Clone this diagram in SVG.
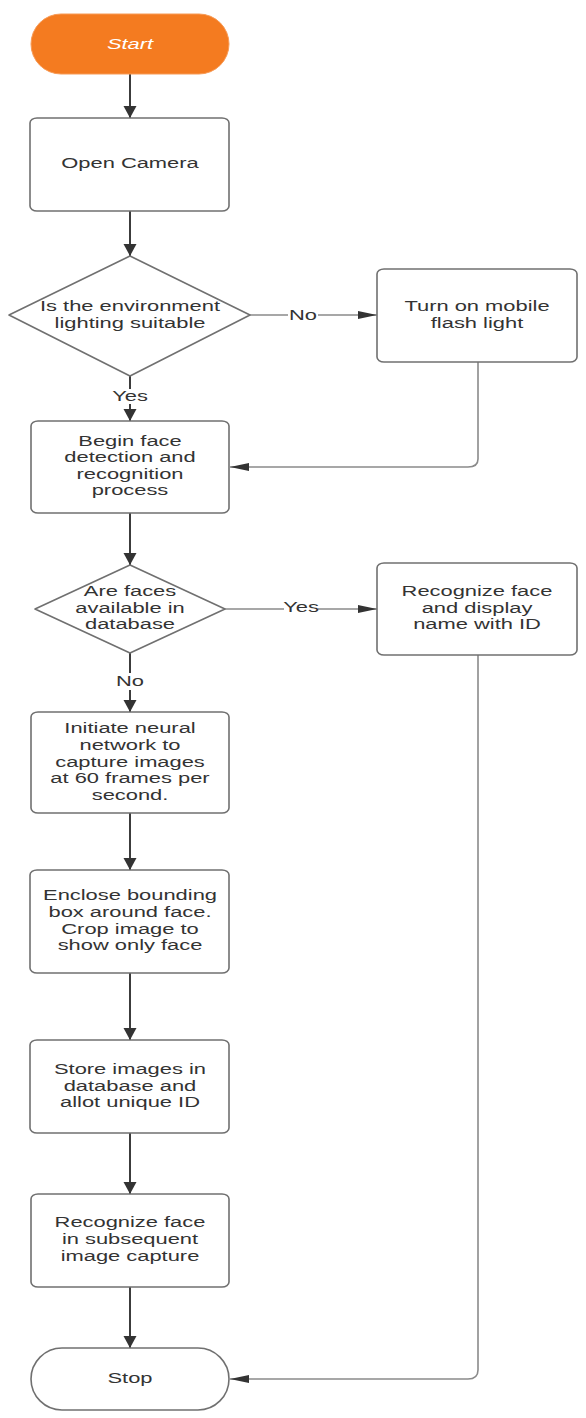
<svg xmlns="http://www.w3.org/2000/svg" width="586" height="1418" viewBox="0 0 586 1418">
<style>
.box{fill:#fff;stroke:#707070;stroke-width:1.6}
.t{font-family:"Liberation Sans",Arial,sans-serif;font-size:15px;fill:#333;text-anchor:middle}
.main{fill:none;stroke:#3c3c3c;stroke-width:2}
.side{fill:none;stroke:#8a8a8a;stroke-width:1.6}
</style>
<defs>
<marker id="aV" markerUnits="userSpaceOnUse" markerWidth="14" markerHeight="14" refX="12" refY="7" orient="auto" viewBox="0 0 14 14"><path d="M0,0.5 L12,7 L0,13.5 Z" fill="#333"/></marker>
<marker id="aH" markerUnits="userSpaceOnUse" markerWidth="20" markerHeight="10" refX="19" refY="5" orient="auto" viewBox="0 0 20 10"><path d="M0,1 L19,5 L0,9 Z" fill="#333"/></marker>
</defs>
<rect width="586" height="1418" fill="#fff"/>
<g id="connectors">
<line class="main" x1="130" y1="74" x2="130" y2="118" marker-end="url(#aV)"/>
<line class="main" x1="130" y1="211" x2="130" y2="256" marker-end="url(#aV)"/>
<line class="main" x1="130" y1="376" x2="130" y2="389"/>
<line class="main" x1="130" y1="404" x2="130" y2="421" marker-end="url(#aV)"/>
<line class="side" x1="250" y1="315" x2="288" y2="315"/>
<line class="side" x1="318" y1="315" x2="377" y2="315" marker-end="url(#aH)"/>
<path class="side" d="M478,362 V459 Q478,467 468,467 H230" marker-end="url(#aH)"/>
<line class="main" x1="130" y1="513" x2="130" y2="565" marker-end="url(#aV)"/>
<line class="side" x1="225" y1="609" x2="284" y2="609"/>
<line class="side" x1="318" y1="609" x2="377" y2="609" marker-end="url(#aH)"/>
<path class="side" d="M478,655 V1370 Q478,1379 468,1379 H230" marker-end="url(#aH)"/>
<line class="main" x1="130" y1="653" x2="130" y2="673"/>
<line class="main" x1="130" y1="690" x2="130" y2="712" marker-end="url(#aV)"/>
<line class="main" x1="130" y1="813" x2="130" y2="870" marker-end="url(#aV)"/>
<line class="main" x1="130" y1="973" x2="130" y2="1040" marker-end="url(#aV)"/>
<line class="main" x1="130" y1="1133" x2="130" y2="1194" marker-end="url(#aV)"/>
<line class="main" x1="130" y1="1287" x2="130" y2="1348" marker-end="url(#aV)"/>
<g transform="translate(303 0) scale(1.46 1)"><text class="t" x="0" y="320">No</text></g>
<g transform="translate(130 0) scale(1.46 1)"><text class="t" x="0" y="401">Yes</text></g>
<g transform="translate(301 0) scale(1.46 1)"><text class="t" x="0" y="612">Yes</text></g>
<g transform="translate(130 0) scale(1.46 1)"><text class="t" x="0" y="686">No</text></g>
</g>
<g id="start">
<rect x="31" y="14" width="198" height="60" rx="30" ry="30" fill="#F47B20" stroke="#F79A55" stroke-width="1"/>
<g transform="translate(130 0) scale(1.46 1)"><text class="t" x="0" y="49" style="fill:#fff;font-style:italic">Start</text></g>
</g>
<g id="open-camera">
<rect class="box" x="30" y="118" width="199" height="93" rx="7" ry="5"/>
<g transform="translate(130 0) scale(1.46 1)"><text class="t" x="0" y="168">Open Camera</text></g>
</g>
<g id="lighting-decision">
<polygon class="box" points="130,256 250,315 130,376 9,315" stroke-linejoin="round"/>
<g transform="translate(130 0) scale(1.46 1)"><text class="t" x="0" y="311">Is the environment</text><text class="t" x="0" y="328">lighting suitable</text></g>
</g>
<g id="flash-light">
<rect class="box" x="377" y="269" width="200" height="93" rx="7" ry="5"/>
<g transform="translate(477 0) scale(1.46 1)"><text class="t" x="0" y="311">Turn on mobile</text><text class="t" x="0" y="328">flash light</text></g>
</g>
<g id="begin-detection">
<rect class="box" x="31" y="421" width="198" height="92" rx="7" ry="5"/>
<g transform="translate(130 0) scale(1.46 1)"><text class="t" x="0" y="446">Begin face</text><text class="t" x="0" y="462">detection and</text><text class="t" x="0" y="479">recognition</text><text class="t" x="0" y="495">process</text></g>
</g>
<g id="faces-decision">
<polygon class="box" points="130,565 225,609 130,653 35,609" stroke-linejoin="round"/>
<g transform="translate(130 0) scale(1.46 1)"><text class="t" x="0" y="596">Are faces</text><text class="t" x="0" y="613">available in</text><text class="t" x="0" y="629">database</text></g>
</g>
<g id="recognize-display">
<rect class="box" x="377" y="563" width="200" height="92" rx="7" ry="5"/>
<g transform="translate(477 0) scale(1.46 1)"><text class="t" x="0" y="596">Recognize face</text><text class="t" x="0" y="613">and display</text><text class="t" x="0" y="629">name with ID</text></g>
</g>
<g id="neural-network">
<rect class="box" x="31" y="712" width="198" height="101" rx="7" ry="5"/>
<g transform="translate(130 0) scale(1.46 1)"><text class="t" x="0" y="733">Initiate neural</text><text class="t" x="0" y="750">network to</text><text class="t" x="0" y="767">capture images</text><text class="t" x="0" y="783">at 60 frames per</text><text class="t" x="0" y="800">second.</text></g>
</g>
<g id="bounding-box">
<rect class="box" x="30" y="870" width="199" height="103" rx="7" ry="5"/>
<g transform="translate(130 0) scale(1.46 1)"><text class="t" x="0" y="900">Enclose bounding</text><text class="t" x="0" y="917">box around face.</text><text class="t" x="0" y="934">Crop image to</text><text class="t" x="0" y="950">show only face</text></g>
</g>
<g id="store-images">
<rect class="box" x="30" y="1040" width="199" height="93" rx="7" ry="5"/>
<g transform="translate(130 0) scale(1.46 1)"><text class="t" x="0" y="1074">Store images in</text><text class="t" x="0" y="1091">database and</text><text class="t" x="0" y="1107">allot unique ID</text></g>
</g>
<g id="recognize-subsequent">
<rect class="box" x="31" y="1194" width="198" height="93" rx="7" ry="5"/>
<g transform="translate(130 0) scale(1.46 1)"><text class="t" x="0" y="1227">Recognize face</text><text class="t" x="0" y="1244">in subsequent</text><text class="t" x="0" y="1261">image capture</text></g>
</g>
<g id="stop">
<rect class="box" x="31" y="1348" width="198" height="62" rx="31" ry="31"/>
<g transform="translate(130 0) scale(1.46 1)"><text class="t" x="0" y="1383">Stop</text></g>
</g>
</svg>
